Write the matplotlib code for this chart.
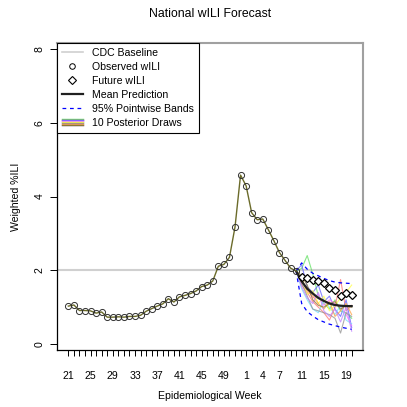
import numpy as np
import matplotlib
matplotlib.use("Agg")
import matplotlib.pyplot as plt
from matplotlib.lines import Line2D
from matplotlib.legend_handler import HandlerBase

plt.rcParams['font.family'] = ['Liberation Sans', 'DejaVu Sans']

# epidemiological weeks of the season (week 21 -> week 20 next year)
weeks = list(range(21, 53)) + list(range(1, 21))
shown_labels = [21, 25, 29, 33, 37, 41, 45, 49, 1, 4, 7, 11, 15, 19]

# observed wILI, weeks 21..10
observed = [1.03, 1.06, 0.91, 0.91, 0.90, 0.84, 0.87, 0.73, 0.73, 0.74, 0.73, 0.75, 0.75, 0.78,
            0.89, 0.96, 1.03, 1.09, 1.23, 1.14, 1.28, 1.32, 1.37, 1.44, 1.56, 1.60, 1.71, 2.11,
            2.16, 2.35, 3.17, 4.58, 4.29, 3.56, 3.37, 3.39, 3.10, 2.80, 2.48, 2.27, 2.06, 1.98]
# future wILI, weeks 11..20
future = [1.83, 1.78, 1.75, 1.71, 1.66, 1.51, 1.46, 1.29, 1.39, 1.34]

# forecast, weeks 10..20 (starting at last observation)
mean_pred = [1.98, 1.70, 1.50, 1.37, 1.25, 1.17, 1.10, 1.06, 1.04, 1.03, 1.03]
band_upper = [1.98, 2.20, 2.03, 1.92, 1.85, 1.78, 1.72, 1.68, 1.66, 1.65, 1.64]
band_lower = [1.98, 1.10, 0.88, 0.76, 0.66, 0.60, 0.54, 0.50, 0.46, 0.43, 0.40]

draws = [
    [1.98, 2.05, 2.40, 1.90, 1.30, 1.10, 0.95, 1.20, 0.90, 0.85, 0.70],
    [1.98, 1.60, 1.40, 1.15, 1.00, 0.85, 0.65, 1.00, 1.75, 0.90, 1.05],
    [1.98, 2.15, 1.55, 1.40, 1.60, 1.15, 1.30, 0.95, 0.75, 1.20, 0.45],
    [1.98, 1.70, 1.50, 1.25, 1.35, 1.05, 1.20, 1.10, 1.00, 0.80, 0.50],
    [1.98, 1.50, 1.20, 0.95, 0.85, 1.20, 1.00, 0.80, 1.05, 0.65, 0.55],
    [1.98, 1.80, 1.35, 1.45, 1.10, 1.30, 0.90, 1.05, 1.25, 1.40, 1.60],
    [1.98, 1.65, 1.30, 0.95, 0.90, 0.85, 0.80, 0.70, 0.30, 0.85, 0.75],
    [1.98, 1.75, 1.45, 1.30, 1.10, 0.95, 1.15, 0.75, 0.90, 1.10, 0.80],
    [1.98, 1.55, 1.25, 1.10, 1.40, 0.90, 0.75, 0.95, 0.60, 1.00, 0.35],
    [1.98, 1.85, 1.60, 1.20, 1.05, 1.00, 1.10, 1.15, 0.95, 1.05, 1.00],
]
draw_colors = ['#60e060', '#ff7070', '#6060ff', '#ff70ff', '#70e0ff',
               '#ffff40', '#909090', '#ffa040', '#c080ff', '#8a7a30']
cdc_baseline = 2.0


class StackedLines(HandlerBase):
    def create_artists(self, legend, orig_handle, xdescent, ydescent,
                       width, height, fontsize, trans):
        arts = []
        n = len(draw_colors)
        for i, c in enumerate(draw_colors):
            y = height * (0.95 - 0.9 * i / (n - 1)) - ydescent
            arts.append(Line2D([-xdescent, width - xdescent], [y, y], color=c,
                               lw=1.0, transform=trans))
        return arts


W = 407
fig = plt.figure(figsize=(4.07, 4.07), dpi=100)
ax = fig.add_axes([57 / W, 1 - 350 / W, 306 / W, 307 / W])

x_obs = np.arange(len(observed))
x_fut = np.arange(len(observed), len(observed) + len(future))
x_fc = np.arange(len(observed) - 1, len(observed) - 1 + len(mean_pred))

ax.axhline(cdc_baseline, color='#d0d0d0', lw=1.5, zorder=1)
for d, c in zip(draws, draw_colors):
    ax.plot(x_fc, d, color=c, lw=0.8, alpha=0.75, zorder=2)
ax.plot(x_fc, band_upper, color='blue', lw=0.9, ls=(0, (3, 3)), zorder=3)
ax.plot(x_fc, band_lower, color='blue', lw=0.9, ls=(0, (3, 3)), zorder=3)
ax.plot(x_fc, mean_pred, color='#202020', lw=1.6, zorder=4)
ax.plot(x_obs, observed, color='#6b6b2a', lw=1.0, zorder=4)
ax.plot(x_obs, observed, ls='none', marker='o', ms=4.4, mfc='none', mec='#303030',
        mew=0.7, zorder=5)
ax.plot(x_fut, future, ls='none', marker='D', ms=3.9, mfc='white', mec='black',
        mew=0.9, zorder=6)

n = len(weeks)
ax.set_xlim(-0.04 * (n - 1), (n - 1) * 1.04)
ax.set_ylim(-0.16, 8.16)
ax.set_xticks(np.arange(n))
ax.set_xticklabels([str(w) if w in shown_labels else '' for w in weeks])
ax.set_yticks([0, 2, 4, 6, 8])
ax.set_yticklabels(['0', '2', '4', '6', '8'], rotation=90, va='center')
ax.tick_params(axis='x', length=4, width=0.7, labelsize=7.6, pad=11)
ax.tick_params(axis='y', length=5, width=0.7, labelsize=7.6, pad=4)

for s in ('top', 'right'):
    ax.spines[s].set_color('#a0a0a0')
    ax.spines[s].set_linewidth(1.5)
for s in ('left', 'bottom'):
    ax.spines[s].set_color('black')
    ax.spines[s].set_linewidth(0.9)

ax.set_xlabel('Epidemiological Week', fontsize=7.6, labelpad=7)
ax.set_ylabel('Weighted %ILI', fontsize=7.6, labelpad=10)
fig.text(210 / W, 1 - 14 / W, 'National wILI Forecast', ha='center', va='center', fontsize=8.8)

handles = [
    Line2D([], [], color='#d0d0d0', lw=1.2),
    Line2D([], [], ls='none', marker='o', ms=4.0, mfc='none', mec='black', mew=0.7),
    Line2D([], [], ls='none', marker='D', ms=4.0, mfc='none', mec='black', mew=0.8),
    Line2D([], [], color='#202020', lw=1.6),
    Line2D([], [], color='blue', lw=0.9, ls=(0, (3, 3))),
    Line2D([], [], color='none'),
]
labels = ['CDC Baseline', 'Observed wILI', 'Future wILI', 'Mean Prediction',
          '95% Pointwise Bands', '10 Posterior Draws']
leg = ax.legend(handles, labels, loc='upper left', bbox_to_anchor=(0, 1),
                borderaxespad=0, fontsize=7.6, frameon=True, fancybox=False,
                edgecolor='black', framealpha=1, labelspacing=0.38,
                handlelength=2.0, handletextpad=0.9, borderpad=0.45,
                handler_map={handles[5]: StackedLines()})
leg.get_frame().set_linewidth(0.8)

fig.savefig('out.png', dpi=100)
